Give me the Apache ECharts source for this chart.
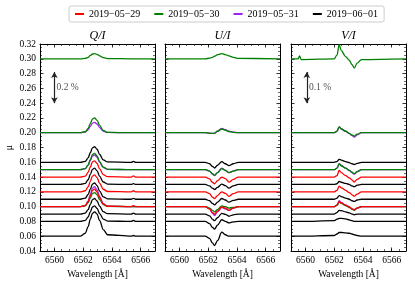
<!DOCTYPE html>
<html><head><meta charset="utf-8">
<script src="https://cdn.jsdelivr.net/npm/echarts@6/dist/echarts.min.js"></script>
<style>html,body{margin:0;padding:0;background:#fff}#c{width:415px;height:286px}</style>
</head><body><div id="c"></div>
<script>
// ---------- DATA ----------
const dates = ['2019−05−29', '2019−05−30', '2019−05−31', '2019−06−01'];
const dateColors = ['#ff0000', '#008000', '#a020f0', '#000000'];
const panelTitles = ['Q/I', 'U/I', 'V/I'];
const xTicks = [6560, 6562, 6564, 6566];
// one entry per stacked profile (same in all three panels)
const curveDate  = [1, 2, 1, 3, 2, 1, 0, 3, 0, 3, 0, 2, 1, 3, 3, 3];
const curveLevel = [0.30, 0.20, 0.20, 0.16, 0.15, 0.15, 0.14, 0.13, 0.12, 0.11, 0.10, 0.10, 0.10, 0.09, 0.08, 0.06];

const qWave = [6559, 6561.8, 6562.15, 6562.35, 6562.5, 6562.65, 6562.8, 6562.97, 6563.15, 6563.4, 6563.7, 6565.35, 6565.5, 6565.65, 6567];
const qProfiles = [
  [0, 0, 0.0005, 0.002, 0.0045, 0.0065, 0.007, 0.006, 0.004, 0.0015, 0.0003, 0, 0, 0, 0],
  [0, 0, 0.001, 0.004, 0.0087, 0.013, 0.014, 0.0118, 0.007, 0.0021, 0.0004, 0, 0, 0, 0],
  [0, 0, 0.0013, 0.0058, 0.0124, 0.0186, 0.020, 0.0168, 0.010, 0.003, 0.0005, 0, 0, 0, 0],
  [0, 0, 0.0013, 0.006, 0.013, 0.0195, 0.021, 0.0176, 0.0105, 0.0032, 0.0005, 0, 0.0012, 0, 0],
  [0, 0, 0.0013, 0.0058, 0.0124, 0.0186, 0.020, 0.0168, 0.010, 0.003, 0.0005, 0, 0, 0, 0],
  [0, 0, 0.0014, 0.0064, 0.0136, 0.0205, 0.022, 0.0185, 0.011, 0.0033, 0.0005, 0, 0, 0, 0],
  [0, 0, 0.0014, 0.0064, 0.0136, 0.0205, 0.022, 0.0185, 0.011, 0.0033, 0.0005, 0, 0.0015, 0, 0],
  [0, 0, 0.0014, 0.0064, 0.0136, 0.0205, 0.022, 0.0185, 0.011, 0.0033, 0.0005, 0, 0.0012, 0, 0],
  [0, 0, 0.0015, 0.0067, 0.0143, 0.0214, 0.023, 0.0193, 0.0115, 0.0035, 0.0005, 0, 0.0015, 0, 0],
  [0, 0, 0.0014, 0.0064, 0.0136, 0.0205, 0.022, 0.0185, 0.011, 0.0033, 0.0005, 0, 0.0012, 0, 0],
  [0, 0, 0.0015, 0.0068, 0.0146, 0.0219, 0.0235, 0.0197, 0.0118, 0.0035, 0.0005, 0, 0.0015, 0, 0],
  [0, 0, 0.0017, 0.0078, 0.0167, 0.0251, 0.027, 0.0227, 0.0135, 0.004, 0.0006, 0, 0, 0, 0],
  [0, 0, 0.0012, 0.0055, 0.0118, 0.0177, 0.019, 0.016, 0.0095, 0.0029, 0.0004, 0, 0, 0, 0],
  [0, 0, 0.0013, 0.006, 0.013, 0.0195, 0.021, 0.0176, 0.0105, 0.0032, 0.0005, 0, 0.0012, 0, 0],
  [0, 0, 0.0013, 0.006, 0.013, 0.0195, 0.021, 0.0176, 0.0105, 0.0032, 0.0005, 0, 0.0015, 0, 0],
  [0, 0, 0.004, 0.013, 0.023, 0.031, 0.033, 0.030, 0.021, 0.009, 0.002, 0, 0.001, 0, 0]
];

const uWave = [6559, 6561.8, 6562.1, 6562.3, 6562.45, 6562.65, 6562.95, 6563.2, 6563.45, 6563.75, 6564.1, 6567];
const uProfiles = [
  [0, 0, 0.0008, 0.002, 0.0035, 0.0055, 0.007, 0.0055, 0.004, 0.002, 0.0005, 0],
  [0, 0, -0.0005, -0.001, -0.0008, 0.002, 0.006, 0.004, 0.002, 0.0008, 0, 0],
  [0, 0, -0.0005, -0.001, -0.0005, 0.002, 0.005, 0.0035, 0.0015, 0.0005, 0, 0],
  [0, 0, -0.002, -0.0055, -0.0077, -0.004, 0.001, -0.002, -0.0045, -0.002, 0, 0],
  [0, 0, -0.002, -0.006, -0.008, -0.004, 0.002, -0.001, -0.004, -0.002, 0, 0],
  [0, 0, -0.002, -0.0055, -0.0075, -0.004, 0.0015, -0.001, -0.004, -0.002, 0, 0],
  [0, 0, -0.0025, -0.007, -0.009, -0.005, 0, -0.002, -0.0068, -0.003, 0, 0],
  [0, 0, -0.002, -0.005, -0.0068, -0.004, 0.0005, -0.0015, -0.005, -0.002, 0, 0],
  [0, 0, -0.0025, -0.007, -0.009, -0.005, 0, -0.002, -0.006, -0.0025, 0, 0],
  [0, 0, -0.002, -0.0055, -0.0077, -0.004, 0.001, -0.001, -0.004, -0.0015, 0, 0],
  [0, 0, -0.003, -0.008, -0.010, -0.006, -0.0005, -0.002, -0.005, -0.002, 0, 0],
  [0, 0, -0.003, -0.009, -0.012, -0.007, -0.001, -0.003, -0.005, -0.002, 0, 0],
  [0, 0, -0.002, -0.005, -0.007, -0.004, 0.001, 0, -0.002, -0.001, 0, 0],
  [0, 0, -0.0025, -0.007, -0.009, -0.005, 0.001, -0.0005, -0.003, -0.001, 0, 0],
  [0, 0, -0.003, -0.008, -0.0104, -0.005, 0.0023, 0, -0.002, -0.0005, 0, 0],
  [0, 0, -0.003, -0.009, -0.0126, -0.006, 0.0054, 0.002, 0, 0, 0, 0]
];

const vWave = [6559, 6559.5, 6559.6, 6559.7, 6562.0, 6562.2, 6562.35, 6562.5, 6562.8, 6563.05, 6563.25, 6563.4, 6563.6, 6563.9, 6567];
const vProfiles = [
  [0, 0, 0.004, -0.001, 0, 0.005, 0.019, 0.011, 0.003, -0.002, -0.008, -0.0125, -0.006, -0.001, 0],
  [0, 0, 0, 0, 0, 0.002, 0.008, 0.005, 0.002, -0.001, -0.004, -0.006, -0.003, 0, 0],
  [0, 0, 0, 0, 0, 0.002, 0.008, 0.005, 0.002, -0.001, -0.003, -0.0045, -0.002, 0, 0],
  [0, 0, 0, 0, 0, 0.001, 0.004, 0.003, 0.001, -0.0005, -0.002, -0.003, -0.0015, 0, 0],
  [0, 0, 0, 0, 0, 0.002, 0.008, 0.006, 0.002, -0.001, -0.004, -0.006, -0.003, 0, 0],
  [0, 0, 0, 0, 0, 0.002, 0.008, 0.005, 0.002, -0.001, -0.0035, -0.0054, -0.0025, 0, 0],
  [0, 0, 0, 0, 0, 0.002, 0.009, 0.006, 0.002, -0.001, -0.004, -0.0068, -0.003, 0, 0],
  [0, 0, 0, 0, 0, 0.001, 0.004, 0.003, 0.0015, 0, -0.002, -0.003, -0.001, 0, 0],
  [0, 0, 0, 0, 0, 0.002, 0.0077, 0.0055, 0.002, -0.001, -0.004, -0.006, -0.003, 0, 0],
  [0, 0, 0, 0, 0, 0.0015, 0.005, 0.0035, 0.0015, 0, -0.002, -0.003, -0.001, 0, 0],
  [0, 0, 0, 0, 0, 0.002, 0.0068, 0.005, 0.002, -0.0005, -0.003, -0.0045, -0.002, 0, 0],
  [0, 0, 0, 0, 0, 0.002, 0.008, 0.0055, 0.002, -0.0005, -0.003, -0.004, -0.002, 0, 0],
  [0, 0, 0, 0, 0, 0.002, 0.006, 0.0045, 0.0015, -0.001, -0.0035, -0.005, -0.002, 0, 0],
  [0, 0, 0, 0, 0, 0.002, 0.005, 0.0045, 0.003, 0.0015, 0, -0.001, 0, 0, 0],
  [0, 0, 0, 0, 0.001, 0.003, 0.004, 0.004, 0.0035, 0.002, 0.001, 0, 0, 0, 0],
  [0, 0, 0, 0, 0.001, 0.003, 0.005, 0.005, 0.0045, 0.004, 0.003, 0.002, 0.001, 0, 0]
];

// scale-bar annotations: [panel, lambda, from, to, text]
const scaleBars = [
  [0, 6560.0, 0.282, 0.240, '0.2 %'],
  [2, 6560.1, 0.282, 0.240, '0.1 %']
];

// ---------- CHART ----------
const FONT = '"Liberation Serif", "DejaVu Serif", serif';
const gridLefts = [40, 165, 291];
const gridW = 115, gridTop = 44, gridH = 207;
const xMin = 6559, xMax = 6567, yMin = 0.04, yMax = 0.32;
const panels = [[qWave, qProfiles], [uWave, uProfiles], [vWave, vProfiles]];
const zByDate = [4, 3, 2, 5];

const grid = gridLefts.map(l => ({left: l, top: gridTop, width: gridW, height: gridH, outerBoundsMode: 'none'}));
const xAxis = [], yAxis = [];
gridLefts.forEach((l, g) => {
  const base = {gridIndex: g, type: 'value', min: xMin, max: xMax, splitLine: {show: false}};
  ['bottom', 'top'].forEach(pos => {
    xAxis.push(Object.assign({}, base, {
      position: pos,
      axisLine: {show: true, onZero: false, lineStyle: {color: '#000', width: 1}},
      axisTick: {show: true, inside: true, length: 3.5, customValues: xTicks, lineStyle: {color: '#000', width: 0.8}},
      axisLabel: pos === 'bottom' ? {show: true, customValues: xTicks, margin: 4, fontFamily: FONT, fontSize: 9.5, color: '#000', formatter: v => String(v)} : {show: false},
      name: pos === 'bottom' ? 'Wavelength [Å]' : '',
      nameLocation: 'middle', nameGap: 16,
      nameTextStyle: {fontFamily: FONT, fontSize: 9.5, color: '#000'}
    }));
    xAxis.push(Object.assign({}, base, {
      position: pos, interval: 0.5,
      axisLine: {show: false},
      axisTick: {show: true, inside: true, length: 2, lineStyle: {color: '#000', width: 0.6}},
      axisLabel: {show: false}
    }));
  });
  ['left', 'right'].forEach(pos => {
    yAxis.push({
      gridIndex: g, type: 'value', min: yMin, max: yMax, interval: 0.02, position: pos,
      splitLine: {show: false},
      axisLine: {show: true, onZero: false, lineStyle: {color: '#000', width: 1}},
      axisTick: {show: true, inside: true, length: 3.5, lineStyle: {color: '#000', width: 0.8}},
      minorTick: {show: true, splitNumber: 4, length: 2, lineStyle: {color: '#000', width: 0.6}},
      axisLabel: (g === 0 && pos === 'left') ? {show: true, margin: 4, fontFamily: FONT, fontSize: 9.5, color: '#000', formatter: v => v.toFixed(2)} : {show: false},
      name: (g === 0 && pos === 'left') ? 'μ' : '',
      nameLocation: 'middle', nameGap: 26, nameRotate: 90,
      nameTextStyle: {fontFamily: FONT, fontSize: 10, color: '#000'}
    });
  });
});

const series = [];
panels.forEach(([wave, profiles], g) => {
  profiles.forEach((prof, k) => {
    const d = curveDate[k];
    series.push({
      type: 'line', name: dates[d], xAxisIndex: g * 4, yAxisIndex: g * 2,
      data: wave.map((w, i) => [w, curveLevel[k] + prof[i]]),
      showSymbol: false, symbol: 'none', smooth: 0.35, smoothMonotone: 'x',
      lineStyle: {color: dateColors[d], width: 1.3}, itemStyle: {color: dateColors[d]},
      z: zByDate[d], silent: true, animation: false
    });
  });
});
scaleBars.forEach(([g, lam, y0, y1, txt]) => {
  series.push({
    type: 'scatter', xAxisIndex: g * 4, yAxisIndex: g * 2,
    data: [[lam + 0.15, (y0 + y1) / 2]], symbolSize: 0, silent: true, animation: false,
    label: {show: true, position: 'right', distance: 0, formatter: txt, fontFamily: FONT, fontSize: 9.5, color: '#222'},
    markLine: {
      silent: true, animation: false, symbol: ['arrow', 'arrow'], symbolSize: [5, 6],
      label: {show: false}, lineStyle: {color: '#222', width: 1.2, type: 'solid'},
      data: [[{coord: [lam, y0]}, {coord: [lam, y1]}]]
    }
  });
});

const graphic = panelTitles.map((t, g) => ({
  type: 'text', x: gridLefts[g] + gridW / 2, y: 36,
  style: {text: t, fill: '#000', font: 'italic 12px "Liberation Serif"', textAlign: 'center', textVerticalAlign: 'middle'}
}));

const chart = echarts.init(document.getElementById('c'), null, {renderer: 'canvas'});
chart.setOption({
  animation: false,
  backgroundColor: '#fff',
  textStyle: {fontFamily: FONT},
  grid, xAxis, yAxis, series, graphic,
  legend: {
    data: dates, top: 6, left: 69, icon: 'rect', itemWidth: 9, itemHeight: 2, itemGap: 14,
    padding: [3, 6], borderColor: '#cccccc', borderWidth: 1, borderRadius: 2, backgroundColor: '#fff',
    textStyle: {fontFamily: FONT, fontSize: 10, color: '#000'}, selectedMode: false
  }
});
</script></body></html>
